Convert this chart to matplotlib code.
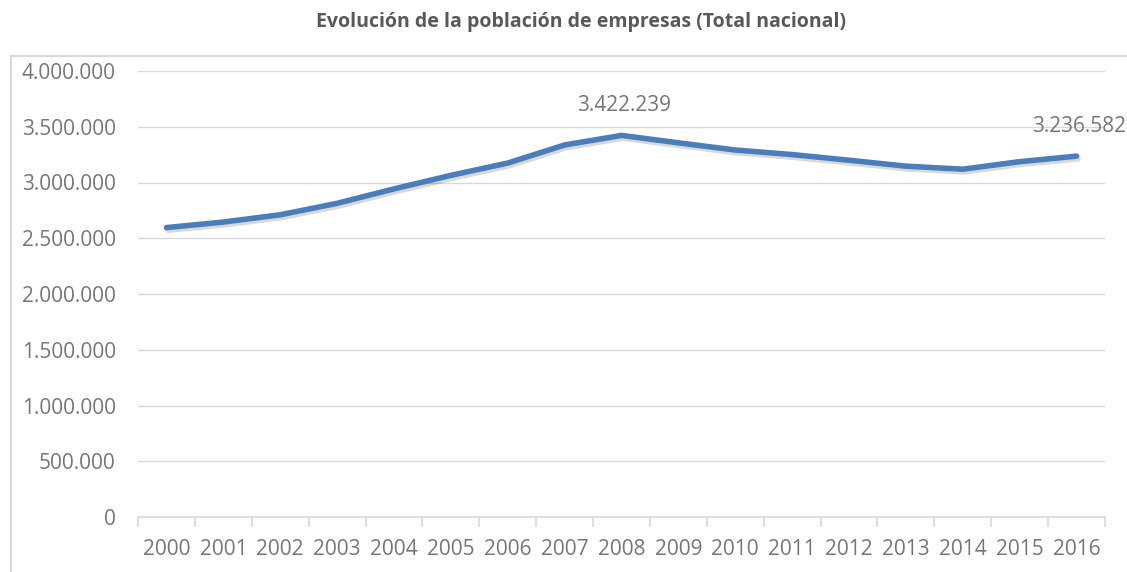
import matplotlib
matplotlib.use("Agg")
import matplotlib.pyplot as plt
from matplotlib.patches import Rectangle
import matplotlib.patheffects as pe
from matplotlib.ticker import FuncFormatter, FixedLocator

years = [str(y) for y in range(2000, 2017)]
empresas = [2595392, 2645317, 2710400, 2813159, 2942583, 3064129, 3174393,
            3336657, 3422239, 3355830, 3291263, 3250576, 3199617, 3146570,
            3119310, 3186878, 3236582]
labelled = ["2008", "2016"]
title = "Evolución de la población de empresas (Total nacional)"

W, H = 1127, 572
fig = plt.figure(figsize=(W / 100, H / 100), dpi=100)
ax = fig.add_axes([138 / W, 1 - 517 / H, (1105 - 138) / W, (517 - 71) / H])

txt = "#767676"
grid = "#d9d9d9"
line_c = "#4a7ebb"

x = list(range(len(years)))
ax.plot(x, empresas, color=line_c, lw=4.0, solid_capstyle="round", solid_joinstyle="round",
        path_effects=[pe.SimpleLineShadow(offset=(1.0, -2.0), shadow_color="black", alpha=0.15),
                      pe.Normal()], zorder=3)

ax.set_xlim(-0.5, len(years) - 0.5)
ax.set_ylim(0, 4000000)
ax.set_yticks(range(0, 4000001, 500000))
ax.yaxis.set_major_formatter(FuncFormatter(lambda v, p: f"{int(v):,}".replace(",", ".")))
ax.grid(axis="y", color=grid, lw=1)
ax.set_axisbelow(True)
for s in ["top", "right", "left"]:
    ax.spines[s].set_visible(False)
ax.spines["bottom"].set_color(grid)
ax.spines["bottom"].set_linewidth(1.2)

ax.set_xticks(x)
ax.set_xticklabels(years)
ax.xaxis.set_minor_locator(FixedLocator([i - 0.5 for i in range(len(years) + 1)]))
ax.tick_params(axis="x", which="major", length=0, pad=16, labelsize=15, labelcolor=txt)
ax.tick_params(axis="x", which="minor", length=7, color=grid, width=1.2)
ax.tick_params(axis="y", length=0, pad=16, labelsize=15, labelcolor=txt)
for lab in ax.get_xticklabels() + ax.get_yticklabels():
    lab.set_fontfamily("Open Sans")

for yr in labelled:
    i = years.index(yr)
    v = empresas[i]
    ax.annotate(f"{v:,}".replace(",", "."), (i, v), xytext=(1.5, 14), textcoords="offset points",
                ha="center", va="bottom", fontsize=15, color=txt, family="Open Sans",
                annotation_clip=False)

fig.text(581 / W, 1 - 22 / H, title, ha="center", va="center", fontsize=14,
         fontweight="bold", color="#595959", family="Open Sans")

fig.patches.append(Rectangle((11 / W, -0.1), 1.2, (1 - 56 / H) + 0.1, transform=fig.transFigure,
                             fill=False, edgecolor=grid, lw=1.5, clip_on=False))

fig.savefig("out.png", dpi=100, facecolor="white")
